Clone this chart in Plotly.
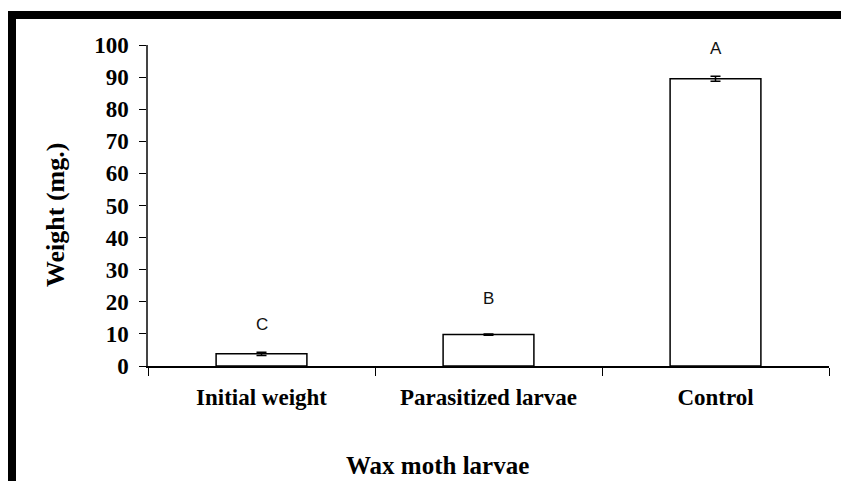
import plotly.graph_objects as go

# data
groups = ["Initial weight", "Parasitized larvae", "Control"]
weights = [3.8, 9.8, 89.5]
errors = [0.5, 0.2, 0.8]
letters = ["C", "B", "A"]
letter_y = [12.8, 21.0, 99.0]

yticks = [0, 10, 20, 30, 40, 50, 60, 70, 80, 90, 100]

serif = "Liberation Serif, Times New Roman, serif"

fig = go.Figure()
fig.add_trace(go.Bar(
    x=groups, y=weights,
    width=0.4,
    marker=dict(color="white", line=dict(color="black", width=1.5)),
    error_y=dict(type="data", array=errors, color="black", thickness=1.5, width=5),
    showlegend=False,
))

for g, txt, ly in zip(groups, letters, letter_y):
    fig.add_annotation(x=g, y=ly, text=txt, showarrow=False,
                       font=dict(family="Liberation Sans, Arial", size=17, color="#111"))

# axis titles placed like the original
fig.add_annotation(xref="paper", yref="paper", x=(437 - 148) / 681, y=(366 - 465) / 321,
                   xanchor="center", yanchor="middle",
                   text="<b>Wax moth larvae</b>", showarrow=False,
                   font=dict(family=serif, size=25, color="black"))
fig.add_annotation(xref="paper", yref="paper", x=(55 - 148) / 681, y=(366 - 215) / 321,
                   xanchor="center", yanchor="middle",
                   text="<b>Weight (mg.)</b>", showarrow=False, textangle=-90,
                   font=dict(family=serif, size=26, color="black"))

# thick black frame on top and left
fig.add_shape(type="rect", xref="paper", yref="paper",
              x0=(8 - 148) / 681, x1=(845 - 148) / 681,
              y0=(366 - 19) / 321, y1=(366 - 11) / 321,
              fillcolor="black", line_width=0)
fig.add_shape(type="rect", xref="paper", yref="paper",
              x0=(8 - 148) / 681, x1=(16 - 148) / 681,
              y0=(366 - 490) / 321, y1=(366 - 11) / 321,
              fillcolor="black", line_width=0)

fig.update_layout(
    width=841, height=481,
    margin=dict(l=148, r=12, t=45, b=115),
    plot_bgcolor="white", paper_bgcolor="white",
)
fig.update_xaxes(
    type="category", tickson="boundaries", ticks="outside", ticklen=8,
    tickcolor="black", showline=True, linecolor="black", linewidth=1.5,
    showgrid=False, ticklabelstandoff=10,
    tickfont=dict(family=serif, size=23, color="black", weight="bold"),
)
fig.update_yaxes(
    range=[0, 100], tickvals=yticks, ticks="outside", ticklen=7,
    tickcolor="black", showline=True, linecolor="#444", linewidth=1.5,
    showgrid=False, zeroline=False, ticklabelstandoff=6,
    tickfont=dict(family=serif, size=23, color="black", weight="bold"),
)

fig.write_html("out.html", config={"displayModeBar": False},
               post_script="document.body.style.margin='0';")
